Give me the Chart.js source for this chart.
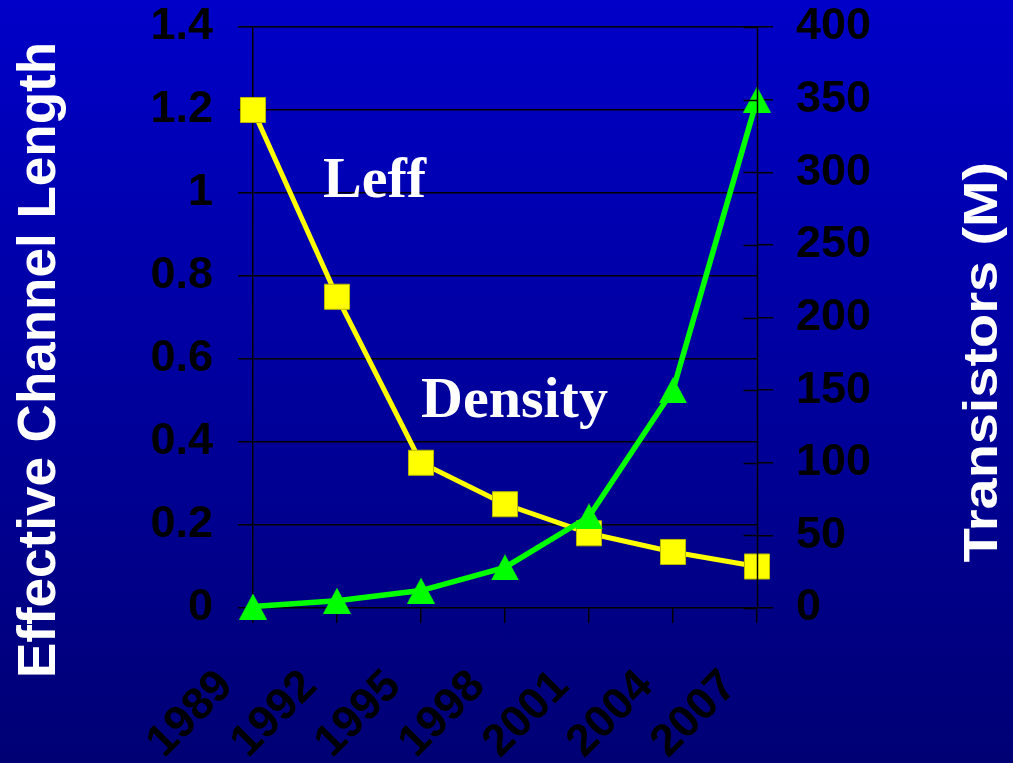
<!DOCTYPE html>
<html><head><meta charset="utf-8">
<script src="https://cdn.jsdelivr.net/npm/chart.js@4/dist/chart.umd.min.js"></script>
<style>
html,body{margin:0;padding:0;}
body{width:1013px;height:763px;overflow:hidden;background:linear-gradient(to bottom,#0000c8 0%,#000074 100%);}
#wrap{width:1013px;height:763px;position:relative;}
</style></head><body>
<div id="wrap"><canvas id="c" width="1013" height="763"></canvas></div>
<script>
// ---- data ----
const years = ['1989','1992','1995','1998','2001','2004','2007'];
const leff = [1.2, 0.75, 0.35, 0.25, 0.18, 0.135, 0.1];
const density = [1, 5, 12, 28, 63, 150, 350];
const leftTitle = 'Effective Channel Length';
const rightTitle = 'Transistors (M)';
const leffLabel = 'Leff';
const densityLabel = 'Density';

// centred triangle marker (like the spreadsheet marker)
function triangleMarker(w, h, color) {
  const c = document.createElement('canvas');
  c.width = w; c.height = h;
  const g = c.getContext('2d');
  g.fillStyle = color;
  g.beginPath();
  g.moveTo(w / 2, 0);
  g.lineTo(w, h);
  g.lineTo(0, h);
  g.closePath();
  g.fill();
  return c;
}
const tri = triangleMarker(28, 26, '#00ff00');

const tickFont = { family: '"Liberation Sans", Arial, sans-serif', weight: 'bold', size: 45 };
const fmt = (v) => String(+Number(v).toFixed(2));

const textPlugin = {
  id: 'texts',
  afterDraw(chart) {
    const ctx = chart.ctx;
    ctx.save();
    ctx.fillStyle = '#ffffff';
    ctx.textAlign = 'center';
    ctx.textBaseline = 'alphabetic';
    // left title
    ctx.save();
    ctx.font = 'bold 53px "Liberation Sans", Arial, sans-serif';
    ctx.translate(55, 360);
    ctx.rotate(-Math.PI / 2);
    ctx.fillText(leftTitle, 0, 0);
    ctx.restore();
    // right title
    ctx.save();
    ctx.font = 'bold 49px "Liberation Sans", Arial, sans-serif';
    ctx.translate(997, 362);
    ctx.rotate(-Math.PI / 2);
    ctx.scale(1.14, 1);
    ctx.fillText(rightTitle, 0, 0);
    ctx.restore();
    // in-plot labels
    ctx.textAlign = 'left';
    ctx.font = 'bold 58px "Liberation Serif", "Times New Roman", serif';
    ctx.fillText(leffLabel, 323, 197);
    ctx.fillText(densityLabel, 421, 417);
    ctx.restore();
  }
};

const rightAxisOnTop = {
  id: 'rightAxisOnTop',
  afterDatasetsDraw(chart) {
    const s = chart.scales.y2;
    const ctx = chart.ctx;
    const x = Math.round(s.left) + 0.5;
    ctx.save();
    ctx.strokeStyle = '#000000';
    ctx.lineWidth = 1.5;
    ctx.beginPath();
    ctx.moveTo(x, chart.chartArea.top);
    ctx.lineTo(x, chart.chartArea.bottom);
    s.ticks.forEach((t) => {
      const y = Math.round(s.getPixelForValue(t.value)) + 0.5;
      ctx.moveTo(x - 14, y);
      ctx.lineTo(x, y);
    });
    ctx.stroke();
    ctx.restore();
  }
};

function fixV(width) {
  return function (s) { s.width = width; s.paddingTop = 0; s.paddingBottom = 0; };
}

new Chart(document.getElementById('c'), {
  type: 'line',
  data: {
    labels: years,
    datasets: [
      {
        label: 'Density',
        data: density,
        yAxisID: 'y2',
        borderColor: '#00ff00',
        borderWidth: 5.5,
        pointStyle: tri,
        pointBackgroundColor: '#00ff00',
        tension: 0,
        clip: false,
        order: 0
      },
      {
        label: 'Leff',
        data: leff,
        yAxisID: 'y',
        borderColor: '#ffff00',
        borderWidth: 5,
        pointStyle: 'rect',
        pointRadius: 17.7,
        pointBackgroundColor: '#ffff00',
        pointBorderColor: '#b8b800',
        pointBorderWidth: 1,
        tension: 0,
        clip: false,
        order: 1
      }
    ]
  },
  options: {
    responsive: false,
    animation: false,
    devicePixelRatio: 1,
    events: [],
    layout: { padding: { top: 27, left: 0, right: 0, bottom: 0 } },
    plugins: { legend: { display: false }, tooltip: { enabled: false } },
    scales: {
      x: {
        type: 'category',
        offset: false,
        afterFit(s) { s.height = 155; s.paddingLeft = 0; s.paddingRight = 0; },
        grid: { drawOnChartArea: false, drawTicks: true, tickLength: 15, color: '#000000', lineWidth: 1.5 },
        border: { display: false },
        ticks: {
          color: '#000000', font: tickFont, minRotation: 45, maxRotation: 45,
          autoSkip: false, padding: 37, labelOffset: -27
        }
      },
      y: {
        position: 'left',
        min: 0, max: 1.4,
        afterFit: fixV(253),
        grid: { color: '#000000', lineWidth: 1.5, tickLength: 15, drawTicks: true },
        border: { display: true, color: '#000000', width: 1.5 },
        ticks: { stepSize: 0.2, color: '#000000', font: tickFont, padding: 25, callback: fmt }
      },
      y2: {
        position: 'right',
        min: 0, max: 400,
        afterFit: fixV(256),
        grid: { drawOnChartArea: false, color: '#000000', lineWidth: 1.5, tickLength: 16, drawTicks: true },
        border: { display: false },
        ticks: { stepSize: 50, color: '#000000', font: tickFont, padding: 23, callback: fmt }
      }
    }
  },
  plugins: [rightAxisOnTop, textPlugin]
});
</script>
</body></html>
